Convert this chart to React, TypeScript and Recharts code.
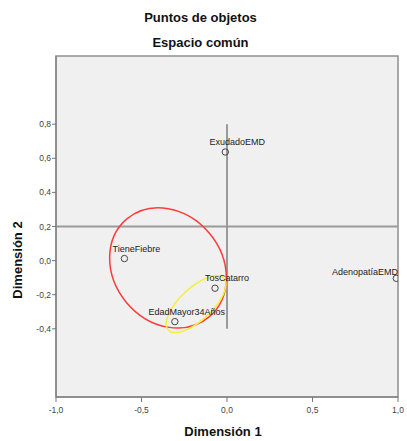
import React from "react";
import {
  ScatterChart,
  Scatter,
  XAxis,
  YAxis,
  ReferenceArea,
  ReferenceLine,
} from "recharts";

// object points (dimension 1 / dimension 2)
const objectNames = ["ExudadoEMD", "TieneFiebre", "TosCatarro", "EdadMayor34Años", "AdenopatíaEMD"];
const dim1 = [-0.01, -0.6, -0.07, -0.305, 0.99];
const dim2 = [0.637, 0.012, -0.162, -0.358, -0.104];

const xTicks = [-1, -0.5, 0, 0.5, 1];
const yTicks = [-0.4, -0.2, 0, 0.2, 0.4, 0.6, 0.8];
const xDomain = [-1, 1];
const yDomain = [-0.8, 1.2];

// reference lines
const hLineY = 0.2;
const vLineX = 0;
const vLineFrom = -0.4;
const vLineTo = 0.8;

// grouping ellipses: centre, semi axes (data units), tilt in degrees
const ellipseCx = [-0.345, -0.181];
const ellipseCy = [-0.043, -0.255];
const ellipseA = [0.374, 0.222];
const ellipseB = [0.316, 0.094];
const ellipseTilt = [50, -43];
const ellipseColors = ["#ff3b3b", "#f4f03a"];

const W = 407;
const H = 441;
const margin = { top: 56, right: 9, bottom: 14, left: 0 };
const yAxisW = 56;
const xAxisH = 30;
const plotW = W - margin.left - margin.right - yAxisW;
const plotRight = margin.left + yAxisW + plotW;
const pxPerUnit = plotW / (xDomain[1] - xDomain[0]);

const font = "'Liberation Sans', Arial, sans-serif";

const points = objectNames.map((name, i) => ({ name, x: dim1[i], y: dim2[i] }));
const ellipses = ellipseCx.map((x, i) => ({
  x,
  y: ellipseCy[i],
  a: ellipseA[i],
  b: ellipseB[i],
  tilt: ellipseTilt[i],
  color: ellipseColors[i],
}));

const fmt = (v: number) => v.toFixed(1).replace(".", ",");

const PointShape = (props: any) => {
  const { cx, cy, payload } = props;
  const name: string = payload?.name ?? "";
  const halfW = name.length * 2.6;
  const lx = cx + 12;
  const overflow = lx + halfW > plotRight;
  return (
    <g>
      <circle cx={cx} cy={cy} r={3.2} fill="none" stroke="#444" strokeWidth={1} />
      <text
        x={overflow ? plotRight : lx}
        y={overflow ? cy - 3 : cy - 7}
        textAnchor={overflow ? "end" : "middle"}
        fontSize={9}
        fontFamily={font}
        fill="#222"
      >
        {name}
      </text>
    </g>
  );
};

const EllipseShape = (props: any) => {
  const { cx, cy, payload } = props;
  return (
    <ellipse
      cx={cx}
      cy={cy}
      rx={payload.a * pxPerUnit}
      ry={payload.b * pxPerUnit}
      transform={`rotate(${payload.tilt} ${cx} ${cy})`}
      fill="none"
      stroke={payload.color}
      strokeWidth={1.5}
    />
  );
};

const txt: React.CSSProperties = {
  position: "absolute",
  fontFamily: font,
  fontWeight: "bold",
  fontSize: 13,
  color: "#111",
  whiteSpace: "nowrap",
};

export default function App() {
  return (
    <div style={{ position: "absolute", left: 0, top: 0, width: W, height: H, background: "#fff" }}>
      <ScatterChart width={W} height={H} margin={margin}>
        <ReferenceArea
          x1={xDomain[0]}
          x2={xDomain[1]}
          y1={yDomain[0]}
          y2={yDomain[1]}
          fill="#f0f0f0"
          fillOpacity={1}
          stroke="#8f8f8f"
          strokeWidth={1.5}
        />
        <XAxis
          type="number"
          dataKey="x"
          domain={xDomain}
          ticks={xTicks}
          tickFormatter={fmt}
          height={xAxisH}
          tickSize={5}
          tickMargin={5}
          stroke="#777"
          tick={{ fontSize: 8.5, fill: "#444", fontFamily: font }}
          allowDataOverflow
        />
        <YAxis
          type="number"
          dataKey="y"
          domain={yDomain}
          ticks={yTicks}
          tickFormatter={fmt}
          width={yAxisW}
          tickSize={4}
          tickMargin={1}
          stroke="#777"
          tick={{ fontSize: 8.5, fill: "#444", fontFamily: font }}
          allowDataOverflow
        />
        <ReferenceLine y={hLineY} stroke="#9a9a9a" strokeWidth={2} />
        <ReferenceLine
          segment={[
            { x: vLineX, y: vLineFrom },
            { x: vLineX, y: vLineTo },
          ]}
          stroke="#9a9a9a"
          strokeWidth={2}
        />
        <Scatter data={ellipses} shape={<EllipseShape />} isAnimationActive={false} />
        <Scatter data={points} shape={<PointShape />} isAnimationActive={false} />
      </ScatterChart>
      <div style={{ ...txt, left: 0, width: W, top: 10, textAlign: "center", transform: "translateX(-3px)" }}>
        Puntos de objetos
      </div>
      <div style={{ ...txt, left: 0, width: W, top: 35, textAlign: "center", transform: "translateX(-3px)" }}>
        Espacio común
      </div>
      <div style={{ ...txt, left: 56, width: plotW, top: 424, textAlign: "center", transform: "translateX(-4px)" }}>
        Dimensión 1
      </div>
      <div
        style={{
          ...txt,
          left: 17,
          top: 260,
          transform: "translate(-50%, -50%) rotate(-90deg)",
        }}
      >
        Dimensión 2
      </div>
    </div>
  );
}
